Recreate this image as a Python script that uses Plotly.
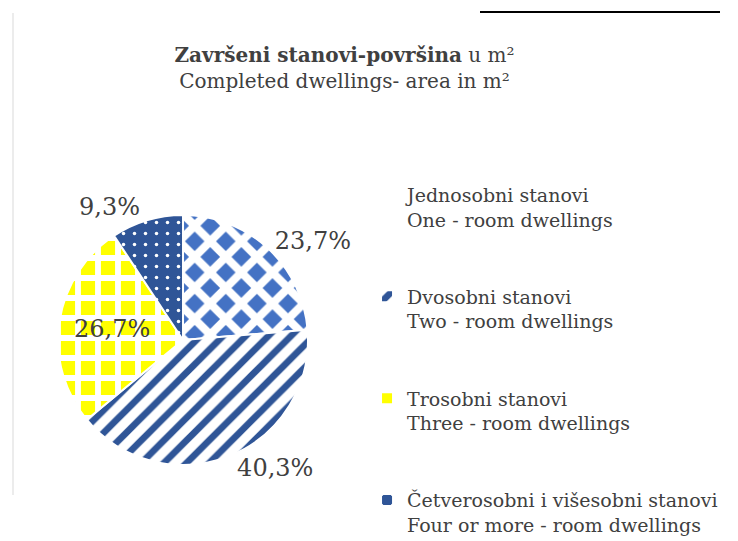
import plotly.graph_objects as go

categories_hr = ["Jednosobni stanovi", "Dvosobni stanovi", "Trosobni stanovi",
                 "Četverosobni i višesobni stanovi"]
categories_en = ["One - room dwellings", "Two - room dwellings", "Three - room dwellings",
                 "Four or more - room dwellings"]
shares = [23.7, 40.3, 26.7, 9.3]

# blank lines only space the legend entries apart
labels = [f"{hr}<br>{en}" + ("<br> <br> " if i < len(categories_hr) - 1 else "")
          for i, (hr, en) in enumerate(zip(categories_hr, categories_en))]

FONT = "DejaVu Serif"
TXT = "#404040"

fig = go.Figure(go.Pie(
    labels=labels,
    values=shares,
    sort=False,
    direction="clockwise",
    rotation=0,
    texttemplate="%{percent:.1%}",
    textposition=["outside", "outside", "inside", "outside"],
    insidetextorientation="horizontal",
    textfont=dict(family=FONT, size=24, color=TXT),
    marker=dict(
        colors=["#4472C4", "#2F5597", "#FFFF00", "#2F5597"],
        line=dict(color="white", width=2),
        pattern=dict(
            shape=["x", "/", "+", "."],
            fillmode="replace",
            fgcolor=["white", "#2F5597", "white", "white"],
            bgcolor=["#4472C4", "white", "#FFFF00", "#2F5597"],
            size=[22, 16, 20, 11],
            solidity=[0.6, 0.42, 0.5, 0.08],
        ),
    ),
    domain=dict(x=[0.0678, 0.4065], y=[0.1553, 0.6174]),
    hoverinfo="skip",
))

fig.update_layout(
    width=738, height=541,
    margin=dict(l=0, r=0, t=0, b=0, autoexpand=False),
    paper_bgcolor="white",
    separators=",.",
    title=dict(
        text="<b>Završeni stanovi-površina</b> u m²<br>Completed dwellings- area in m²",
        x=0.456, xanchor="center", y=0.90, yanchor="top",
        font=dict(family=FONT, size=20, color=TXT),
    ),
    legend=dict(
        x=0.4865, y=0.69, xanchor="left", yanchor="top",
        font=dict(family=FONT, size=19, color=TXT),
        valign="top",
        itemwidth=30,
    ),
    showlegend=True,
    shapes=[
        dict(type="line", xref="paper", yref="paper", x0=472 / 738, x1=712 / 738,
             y0=1 - 4 / 541, y1=1 - 4 / 541, line=dict(color="black", width=2)),
        dict(type="line", xref="paper", yref="paper", x0=5 / 738, x1=5 / 738,
             y0=1 - 487 / 541, y1=1 - 5 / 541, line=dict(color="#D9D9D9", width=1)),
    ],
)
try:
    fig.update_layout(legend_maxheight=1.0)
except ValueError:
    pass

fig.write_html("out.html")
